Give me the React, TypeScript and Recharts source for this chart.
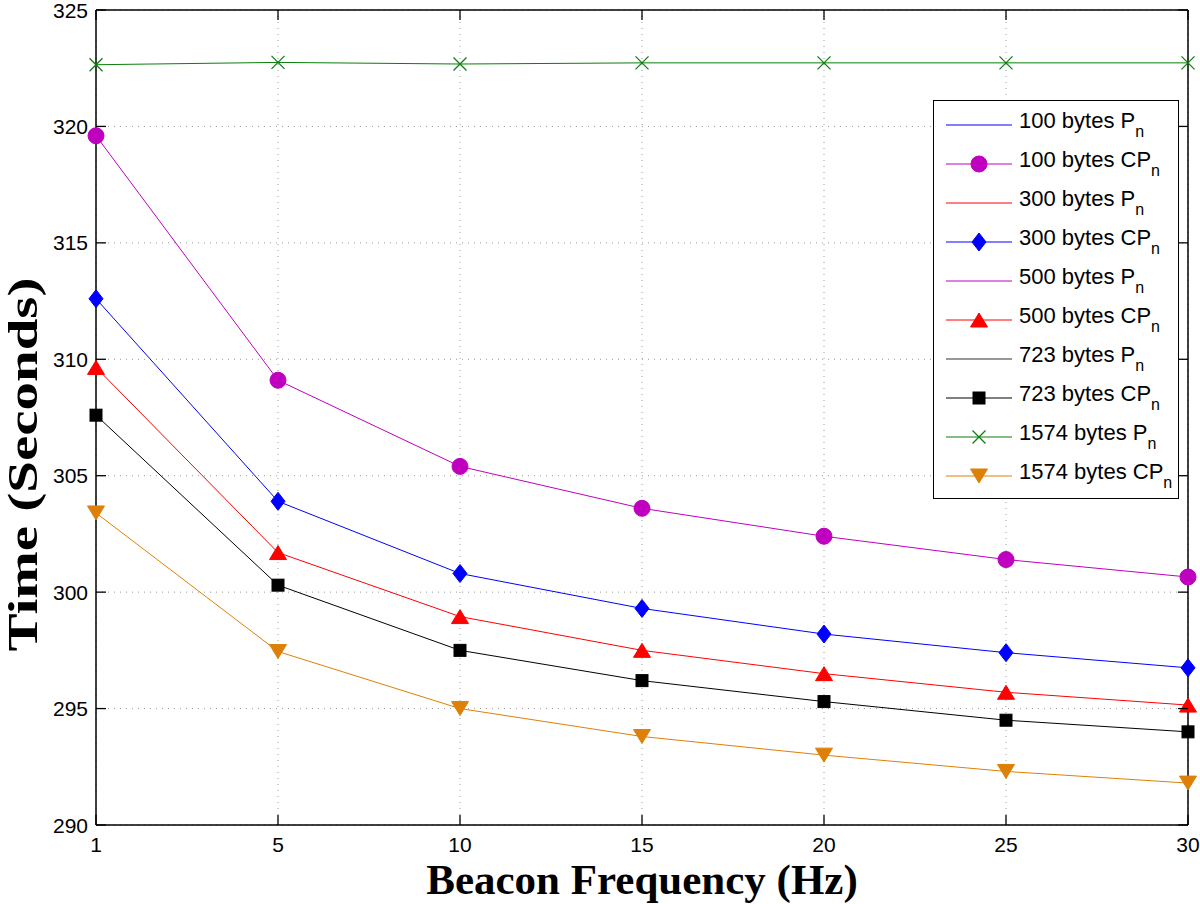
import React from 'react';
import { LineChart, Line, XAxis, YAxis, CartesianGrid } from 'recharts';

// beacon frequency categories (Hz)
const freqs = ['1', '5', '10', '15', '20', '25', '30'];
const yTicks = [290, 295, 300, 305, 310, 315, 320, 325];

// time in seconds
const cp100 = [319.6, 309.1, 305.4, 303.6, 302.4, 301.4, 300.65];
const cp300 = [312.6, 303.9, 300.8, 299.3, 298.2, 297.4, 296.75];
const cp500 = [309.65, 301.7, 298.95, 297.5, 296.5, 295.7, 295.15];
const cp723 = [307.6, 300.3, 297.5, 296.2, 295.3, 294.5, 294.0];
const pn1574 = [322.65, 322.75, 322.68, 322.73, 322.73, 322.73, 322.73];
const cp1574 = [303.4, 297.45, 295.0, 293.8, 293.0, 292.3, 291.8];

const BLUE = '#0000ff';
const MAGENTA = '#bf00bf';
const RED = '#ff0000';
const BLACK = '#000000';
const GREEN = '#0a7d0a';
const ORANGE = '#de8008';

type Shape = 'none' | 'circle' | 'diamond' | 'triangle' | 'square' | 'x' | 'triangleDown';

const series = [
  { key: 'pn1574', values: pn1574, color: GREEN, shape: 'x' as Shape },
  { key: 'cp100', values: cp100, color: MAGENTA, shape: 'circle' as Shape },
  { key: 'cp300', values: cp300, color: BLUE, shape: 'diamond' as Shape },
  { key: 'cp500', values: cp500, color: RED, shape: 'triangle' as Shape },
  { key: 'cp723', values: cp723, color: BLACK, shape: 'square' as Shape },
  { key: 'cp1574', values: cp1574, color: ORANGE, shape: 'triangleDown' as Shape },
];

const legendItems = [
  { size: '100', sub: 'P', color: BLUE, shape: 'none' as Shape },
  { size: '100', sub: 'CP', color: MAGENTA, shape: 'circle' as Shape },
  { size: '300', sub: 'P', color: RED, shape: 'none' as Shape },
  { size: '300', sub: 'CP', color: BLUE, shape: 'diamond' as Shape },
  { size: '500', sub: 'P', color: MAGENTA, shape: 'none' as Shape },
  { size: '500', sub: 'CP', color: RED, shape: 'triangle' as Shape },
  { size: '723', sub: 'P', color: '#333', shape: 'none' as Shape },
  { size: '723', sub: 'CP', color: BLACK, shape: 'square' as Shape },
  { size: '1574', sub: 'P', color: GREEN, shape: 'x' as Shape },
  { size: '1574', sub: 'CP', color: ORANGE, shape: 'triangleDown' as Shape },
];

const data = freqs.map((f, i) => {
  const row: Record<string, string | number> = { freq: f };
  series.forEach((s) => { row[s.key] = s.values[i]; });
  return row;
});

const SANS = '"Liberation Sans", Arial, Helvetica, sans-serif';
const SERIF = '"Liberation Serif", "Times New Roman", serif';

function Marker({ shape, cx, cy, color }: { shape: Shape; cx: number; cy: number; color: string }) {
  switch (shape) {
    case 'circle':
      return <circle cx={cx} cy={cy} r={8} fill={color} stroke={color} />;
    case 'diamond':
      return <polygon points={`${cx},${cy - 9} ${cx + 7},${cy} ${cx},${cy + 9} ${cx - 7},${cy}`} fill={color} stroke={color} />;
    case 'triangle':
      return <polygon points={`${cx},${cy - 7} ${cx + 8.5},${cy + 7} ${cx - 8.5},${cy + 7}`} fill={color} stroke={color} />;
    case 'triangleDown':
      return <polygon points={`${cx - 8.5},${cy - 7} ${cx + 8.5},${cy - 7} ${cx},${cy + 7}`} fill={color} stroke={color} />;
    case 'square':
      return <rect x={cx - 6} y={cy - 6} width={12} height={12} fill={color} stroke={color} />;
    case 'x':
      return (
        <g stroke={color} strokeWidth={1.2}>
          <line x1={cx - 6.5} y1={cy - 6.5} x2={cx + 6.5} y2={cy + 6.5} />
          <line x1={cx - 6.5} y1={cy + 6.5} x2={cx + 6.5} y2={cy - 6.5} />
        </g>
      );
    default:
      return null;
  }
}

const BottomTick = (p: any) => (
  <g>
    <line x1={p.x} y1={p.y} x2={p.x} y2={p.y - 10} stroke="#000" strokeWidth={1.3} />
    <text x={p.x} y={p.y + 27} textAnchor="middle" fontFamily={SANS} fontSize={21} fill="#000">
      {p.payload.value}
    </text>
  </g>
);

const TopTick = (p: any) => (
  <line x1={p.x} y1={p.y} x2={p.x} y2={p.y + 10} stroke="#000" strokeWidth={1.3} />
);

const LeftTick = (p: any) => (
  <g>
    <line x1={p.x} y1={p.y} x2={p.x + 10} y2={p.y} stroke="#000" strokeWidth={1.3} />
    <text x={p.x - 8} y={p.y + 7.5} textAnchor="end" fontFamily={SANS} fontSize={21} fill="#000">
      {p.payload.value}
    </text>
  </g>
);

const RightTick = (p: any) => (
  <line x1={p.x} y1={p.y} x2={p.x - 10} y2={p.y} stroke="#000" strokeWidth={1.3} />
);

// y title is stretched along its length in the original figure
const YTitle = (p: any) => {
  const vb = p.viewBox || { x: 0, y: 0, height: 815 };
  const cx = vb.x + 22;
  const cy = vb.y + vb.height / 2 + 47;
  return (
    <text
      x={cx}
      y={cy}
      transform={`rotate(-90, ${cx}, ${cy})`}
      textAnchor="middle"
      dominantBaseline="central"
      textLength={374}
      lengthAdjust="spacingAndGlyphs"
      fontFamily={SERIF}
      fontWeight="bold"
      fontSize={43}
      fill="#000"
    >
      Time (Seconds)
    </text>
  );
};

function Legend() {
  return (
    <div
      style={{
        position: 'absolute', left: 933, top: 100, width: 246, height: 399,
        border: '1px solid #000', background: '#fff', paddingTop: 4, boxSizing: 'border-box',
        fontFamily: SANS, fontSize: 22, color: '#000',
      }}
    >
      {legendItems.map((it, i) => (
        <div key={i} style={{ display: 'flex', alignItems: 'center', height: 39 }}>
          <svg width={85} height={30} style={{ flex: 'none' }}>
            <line x1={12} y1={15} x2={78} y2={15} stroke={it.color} strokeWidth={1} />
            <Marker shape={it.shape} cx={45} cy={15} color={it.color} />
          </svg>
          <span style={{ whiteSpace: 'nowrap', position: 'relative', top: -3, lineHeight: '22px' }}>
            {it.size} bytes {it.sub}
            <span style={{ fontSize: 16, position: 'relative', top: 9 }}>n</span>
          </span>
        </div>
      ))}
    </div>
  );
}

export default function App() {
  return (
    <div style={{ position: 'absolute', left: 0, top: 0, width: 1200, height: 904, background: '#fff' }}>
      <LineChart width={1200} height={904} data={data} margin={{ top: 0, right: 0, bottom: 0, left: 0 }}>
        <CartesianGrid stroke="#9a9a9a" strokeDasharray="1 5" />
        <XAxis
          dataKey="freq"
          type="category"
          scale="point"
          padding={{ left: 0, right: 0 }}
          height={79}
          tickSize={0}
          tickMargin={0}
          tickLine={false}
          tick={BottomTick}
          interval={0}
          axisLine={{ stroke: '#000', strokeWidth: 1.5 }}
          label={{
            value: 'Beacon Frequency (Hz)', position: 'insideBottom', offset: 10,
            style: { fontFamily: SERIF, fontWeight: 'bold', fontSize: 43, fill: '#000' },
          }}
        />
        <XAxis
          xAxisId="top"
          orientation="top"
          dataKey="freq"
          type="category"
          scale="point"
          padding={{ left: 0, right: 0 }}
          height={10}
          tickSize={0}
          tickMargin={0}
          tickLine={false}
          tick={TopTick}
          interval={0}
          axisLine={{ stroke: '#000', strokeWidth: 1.5 }}
        />
        <YAxis
          type="number"
          domain={[290, 325]}
          ticks={yTicks}
          allowDataOverflow
          width={96}
          tickSize={0}
          tickMargin={0}
          tickLine={false}
          tick={LeftTick}
          interval={0}
          axisLine={{ stroke: '#000', strokeWidth: 1.5 }}
          label={<YTitle />}
        />
        <YAxis
          yAxisId="right"
          orientation="right"
          type="number"
          domain={[290, 325]}
          ticks={yTicks}
          allowDataOverflow
          width={12}
          tickSize={0}
          tickMargin={0}
          tickLine={false}
          tick={RightTick}
          interval={0}
          axisLine={{ stroke: '#000', strokeWidth: 1.5 }}
        />
        {series.map((s) => (
          <Line
            key={s.key}
            dataKey={s.key}
            type="linear"
            stroke={s.color}
            strokeWidth={1}
            isAnimationActive={false}
            activeDot={false}
            dot={(p: any) => <Marker key={`${s.key}-${p.index}`} shape={s.shape} cx={p.cx} cy={p.cy} color={s.color} />}
          />
        ))}
      </LineChart>
      <Legend />
    </div>
  );
}
